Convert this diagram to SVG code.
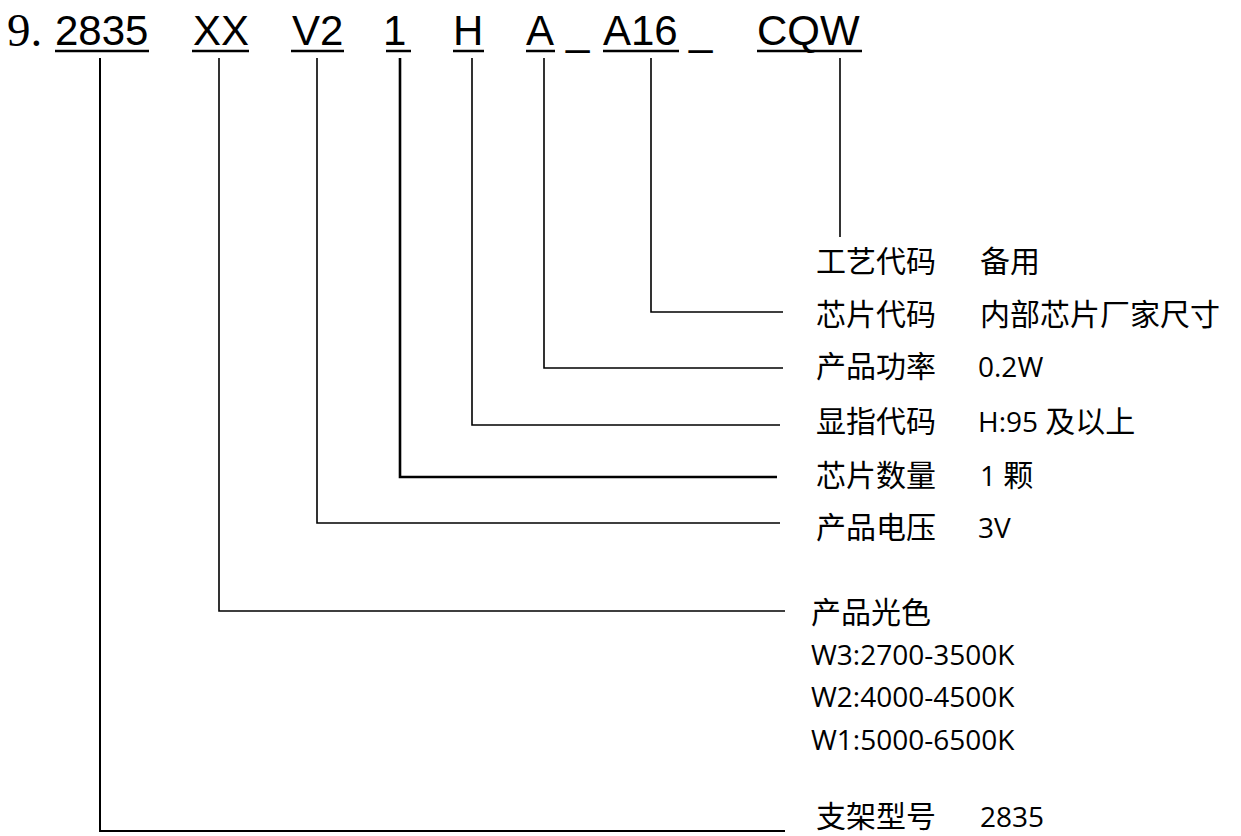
<svg xmlns="http://www.w3.org/2000/svg" width="1241" height="836" viewBox="0 0 1241 836">
<style>
.code{font-family:"Liberation Sans",Arial,sans-serif;font-size:42px;fill:#000}
.num{font-family:"Liberation Serif","Times New Roman",serif;font-size:47px;fill:#000}
.cn{font-family:"Noto Sans CJK SC","Noto Sans",sans-serif;font-size:30px;fill:#000}
.val{font-family:"Open Sans","Noto Sans CJK SC",sans-serif;font-size:28px;fill:#000}
.ul{stroke:#000;stroke-width:2.5}
.conn{fill:none;stroke:#000;stroke-width:1.6}
</style>
<rect width="1241" height="836" fill="#fff"/>
<g id="header">
  <text class="num" x="7" y="46">9.</text>
  <g id="seg-2835"><text class="code" x="55" y="45">2835</text><line class="ul" x1="55" y1="51" x2="149" y2="51"/></g>
  <g id="seg-XX"><text class="code" x="193" y="45">XX</text><line class="ul" x1="192" y1="51" x2="249" y2="51"/></g>
  <g id="seg-V2"><text class="code" x="292" y="45">V2</text><line class="ul" x1="291" y1="51" x2="344" y2="51"/></g>
  <g id="seg-1"><text class="code" x="383" y="45">1</text><line class="ul" x1="386" y1="51" x2="411" y2="51"/></g>
  <g id="seg-H"><text class="code" x="453" y="45">H</text><line class="ul" x1="453" y1="51" x2="484" y2="51"/></g>
  <g id="seg-A"><text class="code" x="526" y="45">A</text><line class="ul" x1="526" y1="51" x2="555" y2="51"/></g>
  <text class="code" x="566" y="45">_</text>
  <g id="seg-A16"><text class="code" x="603" y="45">A16</text><line class="ul" x1="603" y1="51" x2="679" y2="51"/></g>
  <text class="code" x="689" y="45">_</text>
  <g id="seg-CQW"><text class="code" x="757" y="45">CQW</text><line class="ul" x1="757" y1="51" x2="862" y2="51"/></g>
</g>
<g id="connectors">
  <path class="conn" d="M840,58 V237"/>
  <path class="conn" d="M651,58 V312 H783"/>
  <path class="conn" d="M544,58 V368 H783"/>
  <path class="conn" d="M472,58 V425 H780"/>
  <path class="conn" style="stroke-width:2.6" d="M400,58 V477 H777"/>
  <path class="conn" d="M317,58 V523 H780"/>
  <path class="conn" d="M219,58 V611 H785"/>
  <path class="conn" style="stroke-width:2" d="M100,58 V831 H785"/>
</g>
<g id="label-process"><text class="cn" x="816" y="272">工艺代码</text><text class="cn" x="980" y="272">备用</text></g>
<g id="label-chipcode"><text class="cn" x="816" y="325">芯片代码</text><text class="cn" x="980" y="325">内部芯片厂家尺寸</text></g>
<g id="label-power"><text class="cn" x="816" y="377">产品功率</text><text class="val" x="978" y="377">0.2W</text></g>
<g id="label-cri"><text class="cn" x="816" y="432">显指代码</text><text class="val" x="978" y="432">H:95 <tspan class="cn">及以上</tspan></text></g>
<g id="label-chipcount"><text class="cn" x="816" y="486">芯片数量</text><text class="val" x="980" y="486">1 <tspan class="cn">颗</tspan></text></g>
<g id="label-voltage"><text class="cn" x="816" y="538">产品电压</text><text class="val" x="978" y="538">3V</text></g>
<g id="label-color">
  <text class="cn" x="811" y="623">产品光色</text>
  <text class="val" x="811" y="665">W3:2700-3500K</text>
  <text class="val" x="811" y="707">W2:4000-4500K</text>
  <text class="val" x="811" y="750">W1:5000-6500K</text>
</g>
<g id="label-bracket"><text class="cn" x="816" y="827">支架型号</text><text class="val" x="980" y="827">2835</text></g>
</svg>
